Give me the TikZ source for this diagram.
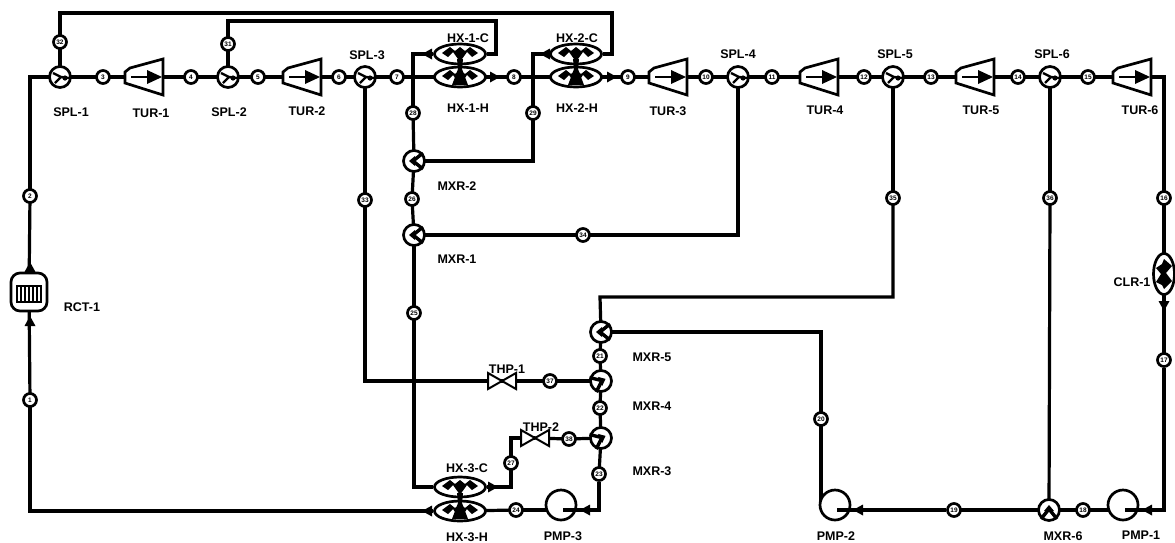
\documentclass[tikz,border=0pt]{standalone}
\usepackage{fontspec}
\setmainfont{Liberation Sans}
\usetikzlibrary{backgrounds,shapes.geometric}
\tikzset{
  pipe/.style={line width=3.2pt},
  outline/.style={draw,line width=2.7pt,fill=white,inner sep=0pt},
  streamnode/.style={circle,outline,minimum size=13pt,font=\fontsize{6.5}{6.5}\selectfont\bfseries},
  splitnode/.style={circle,outline,minimum size=21pt},
  mixnode/.style={circle,outline,minimum size=21pt},
  pumpnode/.style={circle,outline,minimum size=30pt},
  hxnode/.style={ellipse,outline,minimum width=51pt,minimum height=20pt},
  tag/.style={inner sep=0pt,font=\fontsize{12.5}{13}\selectfont\bfseries},
  inside/.style={line width=2.4pt,line join=round}
}
\begin{document}
\begin{tikzpicture}[x=1pt,y=-1pt]
  \useasboundingbox (0,0) rectangle (1175,542);
  % stream numbers
  \foreach \n/\x/\y in {1/30/400,2/30/196,3/103/77,4/191/77,5/258/77,6/339/77,7/397/77,8/514/77,9/628/77,
    10/706/77,11/772/77,12/864/77,13/931/77,14/1018/77,15/1088/77,16/1164/198,17/1164/360,18/1083/510,
    19/954/510,20/821/419,21/600/356,22/600/408,23/599/474,24/516/510,25/414/313,26/412/199,27/511/463,
    28/413/113,29/533/113,31/228/44,32/60/42,33/365/200,34/583/235,35/893/198,36/1050/198,37/550/381,38/569/439}
    \node[streamnode] (s\n) at (\x,\y) {\n};
  % units
  \foreach \n/\x in {spl1/60,spl2/228,spl3/365,spl4/738,spl5/893,spl6/1050}
    \node[splitnode] (\n) at (\x,77) {};
  \foreach \n/\x/\y in {mxr1/414/235,mxr2/414/161,mxr3/601/438,mxr4/601/381,mxr5/601/332,mxr6/1049/510}
    \node[mixnode] (\n) at (\x,\y) {};
  \foreach \n/\x/\y in {pmp1/1123/505,pmp2/835/505,pmp3/561/505}
    \node[pumpnode] (\n) at (\x,\y) {};
  \foreach \n/\x/\y in {hx1c/460/54,hx1h/460/77,hx2c/576/54,hx2h/576/77,hx3c/460/487,hx3h/460/511}
    \node[hxnode] (\n) at (\x,\y) {};
  \node[ellipse,outline,minimum width=21pt,minimum height=41pt] (clr1) at (1164,274) {};
  \node[rectangle,rounded corners=9pt,outline,minimum width=36pt,minimum height=38pt] (rct1) at (29,292) {};
  \path (144,77) coordinate (tur1) (302,77) coordinate (tur2) (668,77) coordinate (tur3)
    (819,77) coordinate (tur4) (975,77) coordinate (tur5) (1132,77) coordinate (tur6);
  \path (502,381) coordinate (thp1) (535,438) coordinate (thp2);
  \path (612,13) coordinate (corA) (496,21) coordinate (corB) (600,297) coordinate (corE) (821,506) coordinate (corP);
  \path (1125,510) coordinate (inA) (837,510) coordinate (inB) (563,510) coordinate (inC);
  % pipes lie under the units
  \begin{scope}[on background layer]
    \foreach \a/\b in {spl1/s3,s3/tur1,tur1/s4,s4/spl2,spl2/s5,s5/tur2,tur2/s6,s6/spl3,spl3/s7,s7/hx1h,hx1h/s8,
      s8/hx2h,hx2h/s9,s9/tur3,tur3/s10,s10/spl4,spl4/s11,s11/tur4,tur4/s12,s12/spl5,spl5/s13,s13/tur5,tur5/s14,
      s14/spl6,spl6/s15,s15/tur6,s16/clr1,clr1/s17,s18/inA,mxr6/s18,mxr6/s19,
      s1/rct1,rct1/s2,mxr2/s26,s26/mxr1,mxr1/s25,s28/mxr2,hx3h/s24,s24/inC,thp1/s37,s37/mxr4,thp2/s38,s38/mxr3,
      mxr3/s22,s22/mxr4,mxr4/s21,s21/mxr5,mxr3/s23,spl6/s36,s36/mxr6,spl3/s33,spl1/s32,spl2/s31,s20/corP,spl5/s35}
      \draw[pipe] (\a.center)--(\b.center);
    \draw[pipe] (s2.center) |- (spl1.center);
    \draw[pipe] (tur6.center) -| (s16.center);
    \draw[line width=3.6pt] (s32.center) |- (corA) |- (hx2c.east);
    \draw[pipe] (s31.center) |- (corB) |- (hx1c.east);
    \draw[pipe] (hx1c.west) -| (s28.center);
    \draw[pipe] (hx2c.west) -| (s29.center);
    \draw[pipe] (s29.center) |- (mxr2.center);
    \draw[pipe] (spl4.center) |- (s34.center);
    \draw[pipe] (s34.center)--(mxr1.center);
    \draw[pipe] (s25.center) |- (hx3c.west);
    \draw[pipe] (s33.center) |- (thp1);
    \draw[pipe] (hx3c.east) -| (s27.center);
    \draw[pipe] (s27.center) |- (thp2);
    \draw[pipe] (s35.center) |- (corE)--(mxr5.center);
    \draw[pipe] (mxr5.center) -| (s20.center);
    \draw[pipe] (hx3h.west) -| (s1.center);
  \end{scope}
  % inner parts of the units
  \foreach \P in {tur1,tur2,tur3,tur4,tur5,tur6}{
    \draw[line width=2.7pt,fill=white,shift={(\P)}] (-19,-5)--(-14,-9)--(19,-18)--(19,18)--(-19,6)--cycle;
    \draw[line width=2.8pt,shift={(\P)}] (-13,0)--(10,0);
    \fill[shift={(\P)}] (18,0)--(3,-7)--(3,7)--cycle;
  }
  \foreach \P in {thp1,thp2}
    \draw[line width=2pt,fill=white,shift={(\P)}] (-14,-8)--(14,8)--(14,-8)--(-14,8)--cycle;
  \foreach \P in {spl1,spl2,spl3,spl4,spl5,spl6}{
    \draw[inside,shift={(\P.center)}] (-7,-4)--(1,0)--(-5,6) (1,0)--(9,1);
    \fill[shift={(\P.center)}] (5,1) circle (2.6pt);
  }
  \foreach \P/\r in {mxr1/0,mxr2/0,mxr5/0,mxr3/205,mxr4/205,mxr6/-90}{
    \draw[line width=3.4pt,shift={(\P.center)},rotate=\r] (9,-8)--(-1,0)--(9,8);
    \fill[shift={(\P.center)},rotate=\r] (-5,0)--(1,-5)--(1,5)--cycle;
  }
  \foreach \P in {hx1c,hx1h,hx2c,hx2h,hx3c,hx3h}
    \fill[shift={(\P.center)}] (-18,-1)--(-10,-7)--(-5,-3)--(0,-7)--(5,-3)--(10,-7)--(18,-1)--(12,3)--(7,-2)--(2,5)--(0,8)
      --(-2,5)--(-7,-2)--(-12,3)--cycle;
  \foreach \P in {hx1h,hx2h,hx3h}
    \fill[shift={(\P.center)}] (-8,8)--(-2,-8)--(-3,-18)--(3,-18)--(2,-8)--(8,8)--cycle;
  \fill[shift={(clr1.center)}] (0,-15)--(8,-8)--(2,-1)--(8,7)--(0,15)--(-2,11)--(-8,8)--(-3,0)--(-8,-6)--(-2,-10)--cycle;
  \draw[line width=1.8pt,fill=white,shift={(rct1.center)}] (-12,-6) rectangle (12,10);
  \foreach \x in {-8,-4,...,8} \draw[line width=1.4pt,shift={(rct1.center)}] (\x,-6)--(\x,10);
  \draw[pipe] (s17.south) |- (inA);
  \draw[pipe] (s19.west)--(inB);
  \draw[pipe] (s23.south) |- (inC);
  % arrow tips
  \foreach \x/\y/\r in {30/262/90,30/316/90,500/77/0,617/77/0,422/54/180,540/54/180,498/487/0,422/511/180,
    580/510/180,853/510/180,1142/510/180,1164/311/-90}
    \fill[shift={(\x,\y)},rotate=\r] (0,0)--(-10,-5.5)--(-10,5.5)--cycle;
  % unit names
  \foreach \t/\x/\y in {SPL-1/71/112,TUR-1/151/113,SPL-2/229/112,TUR-2/307/111,SPL-3/367/55,HX-1-C/468/38,HX-1-H/468/108,
    HX-2-C/577/38,HX-2-H/577/108,TUR-3/668/111,SPL-4/738/54,TUR-4/825/110,SPL-5/895/54,TUR-5/981/110,SPL-6/1052/54,
    TUR-6/1140/110,MXR-2/457/186,MXR-1/457/259,RCT-1/82/307,MXR-5/652/357,MXR-4/652/406,MXR-3/652/471,THP-1/507/369,
    THP-2/541/427,HX-3-C/467/468,HX-3-H/467/537,PMP-3/563/536,PMP-2/836/536,MXR-6/1063/536,PMP-1/1141/535,CLR-1/1132/282}
    \node[tag] (l\t) at (\x,\y) {\t};
\end{tikzpicture}
\end{document}
